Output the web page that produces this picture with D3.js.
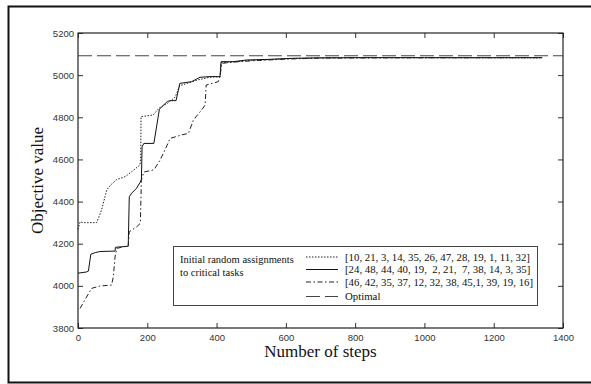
<!DOCTYPE html>
<html><head><meta charset="utf-8">
<script src="https://cdn.jsdelivr.net/npm/d3@7"></script>
<style>body{margin:0;background:#fff}svg{display:block}</style>
</head><body>
<script>
const xTicks = [0,200,400,600,800,1000,1200,1400];
const yTicks = [3800,4000,4200,4400,4600,4800,5000,5200];
const seriesNames = ["[10, 21, 3, 14, 35, 26, 47, 28, 19, 1, 11, 32]",
  "[24, 48, 44, 40, 19,  2, 21,  7, 38, 14, 3, 35]",
  "[46, 42, 35, 37, 12, 32, 38, 45,1, 39, 19, 16]",
  "Optimal"];
const dotted = [[0,4268],[6,4304],[15,4300],[54,4300],[68,4360],[83,4455],[95,4480],[112,4505],[136,4518],[155,4542],[179,4574],[181,4613],[182,4803],[217,4811],[235,4845],[258,4866],[280,4895],[294,4950],[315,4961],[345,4977],[380,4990],[410,4993],[413,5059],[450,5063],[500,5070],[600,5078],[700,5082],[900,5083],[1340,5082]];
const solid = [[0,4060],[25,4066],[30,4070],[37,4150],[50,4158],[64,4163],[107,4165],[108,4183],[145,4188],[148,4423],[155,4440],[169,4463],[179,4490],[183,4505],[185,4660],[190,4676],[219,4676],[235,4838],[245,4855],[258,4875],[266,4879],[283,4879],[294,4961],[328,4969],[352,4990],[381,4993],[410,4993],[413,5064],[448,5064],[487,5072],[554,5075],[622,5080],[700,5082],[800,5083],[1000,5083],[1340,5083]];
const dashdot = [[6,3893],[39,3988],[63,3999],[97,4004],[102,4043],[107,4138],[112,4178],[145,4190],[148,4257],[170,4281],[180,4297],[183,4502],[190,4540],[217,4550],[222,4558],[237,4597],[251,4645],[266,4700],[299,4716],[319,4724],[333,4787],[357,4835],[367,4858],[370,4953],[405,4969],[410,4993],[415,5056],[450,5062],[500,5068],[600,5076],[700,5081],[900,5082],[1340,5083]];
const optimalValue = 5092;
const xDomain = [0,1400], yDomain = [3800,5200];

const W=591,H=384;
const svg=d3.select("body").append("svg").attr("width",W).attr("height",H);
svg.append("rect").attr("width",W).attr("height",H).attr("fill","#fff");
// outer frame (left, top, bottom)
svg.append("path").attr("d","M600,6.5H8.5V382.5H600").attr("fill","none").attr("stroke","#111").attr("stroke-width",2);

const L=78,R=563,T=33,B=328;
const x=d3.scaleLinear().domain(xDomain).range([L,R]);
const y=d3.scaleLinear().domain(yDomain).range([B,T]);

const axStyle=g=>{g.select(".domain").remove();g.selectAll("line").attr("stroke","#333");g.selectAll("text").attr("fill","#333").style("font-family","'Liberation Sans',Arial,sans-serif").style("font-size","9.5px");};
svg.append("g").attr("transform",`translate(0,${B})`).call(d3.axisBottom(x).tickValues(xTicks).tickFormat(d3.format("d")).tickSizeInner(-5).tickPadding(6)).call(axStyle);
svg.append("g").attr("transform",`translate(0,${T})`).call(d3.axisTop(x).tickValues(xTicks).tickFormat("").tickSizeInner(-5)).call(axStyle);
svg.append("g").attr("transform",`translate(${L},0)`).call(d3.axisLeft(y).tickValues(yTicks).tickFormat(d3.format("d")).tickSizeInner(-5).tickPadding(4)).call(axStyle);
svg.append("g").attr("transform",`translate(${R},0)`).call(d3.axisRight(y).tickValues(yTicks).tickFormat("").tickSizeInner(-5)).call(axStyle);
svg.append("rect").attr("x",L).attr("y",T).attr("width",R-L).attr("height",B-T).attr("fill","none").attr("stroke","#222").attr("stroke-width",1.2);

const line=d3.line().x(d=>x(d[0])).y(d=>y(d[1]));
const styles=[
  {data:dotted,dash:"1.5,1.5",w:1,c:"#222"},
  {data:solid,dash:null,w:1,c:"#111"},
  {data:dashdot,dash:"5,2.5,1.5,2.5",w:1,c:"#222"}
];
svg.append("path").datum([[xDomain[0],optimalValue],[xDomain[1],optimalValue]]).attr("d",line).attr("fill","none").attr("stroke","#444").attr("stroke-width",1).attr("stroke-dasharray","14,5");
styles.forEach(s=>{
  svg.append("path").datum(s.data).attr("d",line).attr("fill","none").attr("stroke",s.c).attr("stroke-width",s.w).attr("stroke-dasharray",s.dash);
});

const serif="'Liberation Serif','Times New Roman',serif";
svg.append("text").attr("x",(L+R)/2).attr("y",357).attr("text-anchor","middle").style("font-family",serif).style("font-size","17px").attr("fill","#111").text("Number of steps");
svg.append("text").attr("transform",`translate(43,${(T+B)/2}) rotate(-90)`).attr("text-anchor","middle").style("font-family",serif).style("font-size","17px").attr("fill","#111").text("Objective value");

// legend
const lg=svg.append("g");
lg.append("rect").attr("x",173.5).attr("y",246.5).attr("width",364).attr("height",59).attr("fill","#fff").attr("stroke","#444").attr("stroke-width",1);
lg.append("text").attr("x",180).attr("y",263).style("font-family",serif).style("font-size","10.5px").attr("fill","#111").text("Initial random assignments");
lg.append("text").attr("x",180).attr("y",276).style("font-family",serif).style("font-size","10.5px").attr("fill","#111").text("to critical tasks");
const legStyles=[["1.5,1.5","#222"],[null,"#111"],["5,2.5,1.5,2.5","#222"],["14,5","#444"]];
const rowsY=[257,269.5,282,296.5];
seriesNames.forEach((n,i)=>{
  lg.append("line").attr("x1",306).attr("x2",338).attr("y1",rowsY[i]).attr("y2",rowsY[i]).attr("stroke",legStyles[i][1]).attr("stroke-dasharray",legStyles[i][0]);
  lg.append("text").attr("x",345).attr("y",rowsY[i]+3.8).style("font-family",serif).style("font-size","10.8px").attr("fill","#111").attr("xml:space","preserve").style("white-space","pre").text(n);
});
</script>
</body></html>
